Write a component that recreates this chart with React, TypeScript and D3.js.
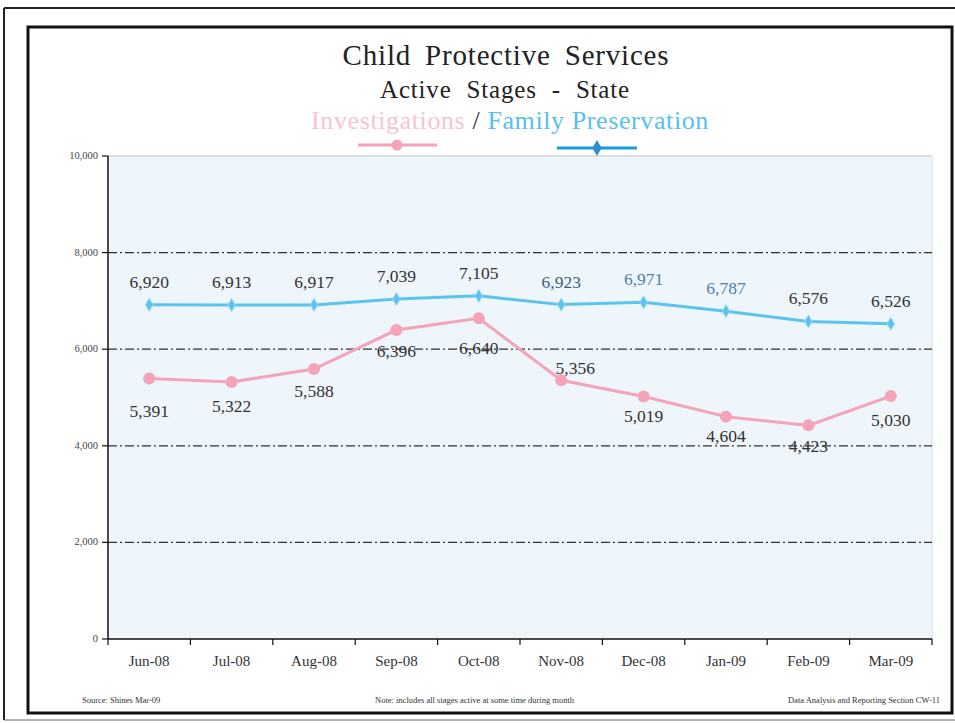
import React from "react";
import * as d3 from "d3";

const months = ["Jun-08", "Jul-08", "Aug-08", "Sep-08", "Oct-08", "Nov-08", "Dec-08", "Jan-09", "Feb-09", "Mar-09"];
const investigations = [5391, 5322, 5588, 6396, 6640, 5356, 5019, 4604, 4423, 5030];
const familyPreservation = [6920, 6913, 6917, 7039, 7105, 6923, 6971, 6787, 6576, 6526];
const yTicks = [0, 2000, 4000, 6000, 8000, 10000];

// label layout offsets (pixels) for the investigations labels
const invLabelDy = [32, 24, 22, 21, 30, -12, 19, 19, 21, 24];
const invLabelDx = [0, 0, 0, 0, 0, 14, 0, 0, 0, 0];
const fpLabelColor = ["#333", "#333", "#333", "#333", "#333", "#3f5f80", "#4e7fae", "#4e7fae", "#333", "#333"];

const W = 955;
const H = 723;
const M = { left: 108, right: 932, top: 156, bottom: 639 };
const PINK = "#f4a3b8";
const BLUE = "#5cc3ee";
const SERIF = "'Liberation Serif', 'DejaVu Serif', serif";

export default function App() {
  const x = d3.scaleBand<string>().domain(months).range([M.left, M.right]).padding(0);
  const y = d3.scaleLinear().domain([0, 10000]).range([M.bottom, M.top]);
  const cx = (m: string) => (x(m) as number) + x.bandwidth() / 2;
  const fmt = d3.format(",");

  const invLine = d3
    .line<number>()
    .x((_, i) => cx(months[i]))
    .y((d) => y(d));
  const fpLine = d3
    .line<number>()
    .x((_, i) => cx(months[i]))
    .y((d) => y(d));

  const diamond = d3.symbol().type(d3.symbolDiamond).size(50)() as string;
  const boundaries = months.map((m) => x(m) as number).concat([M.right]);

  return (
    <svg
      width={W}
      height={H}
      style={{ position: "absolute", left: 0, top: 0, background: "#fff" }}
      fontFamily={SERIF}
    >
      {/* outer page frame */}
      <line x1={4} y1={8} x2={W} y2={8} stroke="#222" strokeWidth={2} />
      <line x1={4} y1={8} x2={4} y2={720} stroke="#222" strokeWidth={2} />
      <line x1={4} y1={720} x2={W} y2={720} stroke="#666" strokeWidth={1} />
      {/* inner chart frame */}
      <rect x={28} y={27} width={924} height={686} fill="#fff" stroke="#111" strokeWidth={3} />

      {/* titles */}
      <text x={506} y={65} textAnchor="middle" fontSize={29} letterSpacing={0.8} wordSpacing={6} fill="#222">
        Child Protective Services
      </text>
      <text x={505} y={98} textAnchor="middle" fontSize={25} letterSpacing={0.8} wordSpacing={8} fill="#222">
        Active Stages - State
      </text>
      <text x={510} y={129} textAnchor="middle" fontSize={26} letterSpacing={0.6}>
        <tspan fill="#f7c4d2">Investigations</tspan>
        <tspan fill="#333"> / </tspan>
        <tspan fill="#55c1f0">Family Preservation</tspan>
      </text>

      {/* legend markers */}
      <line x1={358} y1={145} x2={437} y2={145} stroke={PINK} strokeWidth={3} />
      <circle cx={397} cy={145} r={5.5} fill={PINK} />
      <line x1={557} y1={148} x2={637} y2={148} stroke="#1a9de0" strokeWidth={3} />
      <path d={diamond} transform="translate(597,148) scale(1.2)" fill="#2d8ccf" />

      {/* plot background */}
      <rect x={M.left} y={M.top} width={M.right - M.left} height={M.bottom - M.top} fill="#eef5fb" />
      <line x1={M.left} y1={M.top} x2={M.right} y2={M.top} stroke="#c9d3d8" strokeWidth={1.5} />
      <line x1={M.right} y1={M.top} x2={M.right} y2={M.bottom} stroke="#e2e6e8" strokeWidth={1.5} />

      {/* grid lines */}
      {yTicks
        .filter((t) => t > 0 && t < 10000)
        .map((t) => (
          <line
            key={t}
            x1={M.left}
            x2={M.right}
            y1={y(t)}
            y2={y(t)}
            stroke="#333"
            strokeWidth={1.2}
            strokeDasharray="9,3,2,3"
          />
        ))}

      {/* y axis */}
      <line x1={M.left} y1={M.top} x2={M.left} y2={M.bottom} stroke="#111" strokeWidth={1.5} />
      {yTicks.map((t) => (
        <g key={t}>
          <line x1={M.left - 6} x2={M.left} y1={y(t)} y2={y(t)} stroke="#111" strokeWidth={1.2} />
          <text x={M.left - 10} y={y(t) + 3} textAnchor="end" fontSize={10.5} fill="#444">
            {fmt(t)}
          </text>
        </g>
      ))}

      {/* x axis */}
      <line x1={M.left} y1={M.bottom} x2={M.right} y2={M.bottom} stroke="#111" strokeWidth={1.5} />
      {boundaries.map((b, i) => (
        <line key={i} x1={b} x2={b} y1={M.bottom} y2={M.bottom + 6} stroke="#111" strokeWidth={1.2} />
      ))}
      {months.map((m) => (
        <text key={m} x={cx(m)} y={666} textAnchor="middle" fontSize={15} fill="#333">
          {m}
        </text>
      ))}

      {/* family preservation series */}
      <path d={fpLine(familyPreservation) as string} fill="none" stroke={BLUE} strokeWidth={3} />
      {familyPreservation.map((v, i) => (
        <path key={i} d={diamond} transform={`translate(${cx(months[i])},${y(v)})`} fill={BLUE} stroke="#9fdcf6" strokeWidth={0.8} />
      ))}
      {familyPreservation.map((v, i) => (
        <text key={i} x={cx(months[i])} y={y(v) - 17} textAnchor="middle" fontSize={17.5} fill={fpLabelColor[i]}>
          {fmt(v)}
        </text>
      ))}

      {/* investigations series */}
      <path d={invLine(investigations) as string} fill="none" stroke={PINK} strokeWidth={3} />
      {investigations.map((v, i) => (
        <circle key={i} cx={cx(months[i])} cy={y(v)} r={6} fill={PINK} />
      ))}
      {investigations.map((v, i) => (
        <text
          key={i}
          x={cx(months[i]) + invLabelDx[i]}
          y={y(v) + invLabelDy[i] + 6}
          textAnchor="middle"
          fontSize={17.5}
          fill="#333"
        >
          {fmt(v)}
        </text>
      ))}

      {/* footer */}
      <text x={82} y={703} fontSize={8.5} fill="#333">
        Source: Shines   Mar-09
      </text>
      <text x={375} y={703} fontSize={8.5} fill="#333">
        Note: includes all stages active at some time during month
      </text>
      <text x={940} y={703} textAnchor="end" fontSize={8.5} fill="#333">
        Data Analysis and Reporting Section CW-11
      </text>
    </svg>
  );
}
